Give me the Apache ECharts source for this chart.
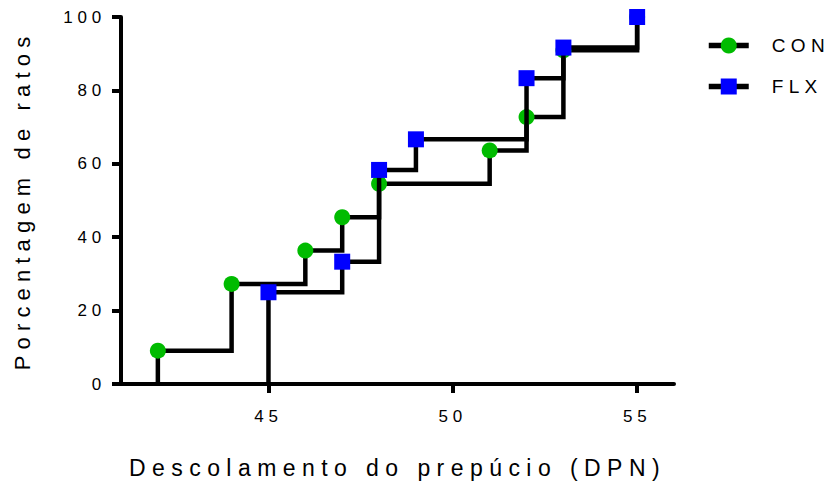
<!DOCTYPE html>
<html>
<head>
<meta charset="utf-8">
<script src="https://cdn.jsdelivr.net/npm/echarts@6/dist/echarts.min.js"></script>
<style>
  html, body { margin: 0; padding: 0; background: #fff; }
  #chart { width: 832px; height: 483px; }
  /* wide tracking on every label, proportional to its font size */
  #chart text { letter-spacing: 0.28em; }
</style>
</head>
<body>
<div id="chart"></div>
<script>
// Cumulative percentage of rats reaching preputial separation, per day
const conDays = [42, 42, 44, 46, 47, 48, 51, 52, 53, 55];
const conPct  = [0, 9.09, 27.27, 36.36, 45.45, 54.55, 63.64, 72.73, 90.91, 100];
const flxDays = [45, 45, 47, 48, 49, 52, 53, 55];
const flxPct  = [0, 25, 33.33, 58.33, 66.67, 83.33, 91.67, 100];
const xTicks  = [45, 50, 55];
const yTicks  = [0, 20, 40, 60, 80, 100];
const seriesNames = ['CON', 'FLX'];

const FONT = "'Liberation Sans', Arial, sans-serif";

// first point of each curve is the baseline start and carries no marker
function toPoints(days, pct) {
  return days.map((d, i) => i === 0
    ? { value: [d, pct[i]], symbol: 'none' }
    : [d, pct[i]]);
}

const chart = echarts.init(document.getElementById('chart'), null, { renderer: 'svg' });

chart.setOption({
  animation: false,
  backgroundColor: '#fff',
  grid: { left: 121, right: 158, top: 17, bottom: 99, containLabel: false, outerBoundsMode: 'none' },
  legend: {
    left: 706, top: 36, orient: 'vertical', padding: 0,
    itemWidth: 40, itemHeight: 20, itemGap: 22,
    data: seriesNames,
    lineStyle: { color: '#000', width: 5.5 },
    textStyle: { fontFamily: FONT, fontSize: 19, color: '#000', padding: [0, 0, 0, 18] }
  },
  xAxis: {
    type: 'value', min: 41, max: 56,
    name: 'Descolamento do prepúcio (DPN)',
    nameLocation: 'middle', nameGap: 72,
    nameTextStyle: { fontFamily: FONT, fontSize: 23, color: '#000' },
    axisLine: { onZero: false, lineStyle: { color: '#000', width: 4 } },
    axisTick: { show: true, length: 9, lineStyle: { color: '#000', width: 4 }, customValues: xTicks },
    axisLabel: { fontFamily: FONT, fontSize: 17, color: '#000', margin: 24, customValues: xTicks },
    splitLine: { show: false }
  },
  yAxis: {
    type: 'value', min: 0, max: 100, interval: 20,
    name: 'Porcentagem de ratos',
    nameLocation: 'middle', nameGap: 88, nameRotate: 90,
    nameTextStyle: { fontFamily: FONT, fontSize: 22, color: '#000' },
    axisLine: { show: true, onZero: false, lineStyle: { color: '#000', width: 4 } },
    axisTick: { show: true, length: 9, lineStyle: { color: '#000', width: 4 } },
    axisLabel: { fontFamily: FONT, fontSize: 17, color: '#000', margin: 15, customValues: yTicks },
    splitLine: { show: false }
  },
  series: [
    {
      name: seriesNames[0], type: 'line', step: 'end', z: 2,
      data: toPoints(conDays, conPct),
      symbol: 'circle', symbolSize: 16,
      itemStyle: { color: '#00bb00' },
      lineStyle: { color: '#000', width: 4.5, cap: 'butt', join: 'miter' }
    },
    {
      name: seriesNames[1], type: 'line', step: 'end', z: 3,
      data: toPoints(flxDays, flxPct),
      symbol: 'rect', symbolSize: 16,
      itemStyle: { color: '#0000ff' },
      lineStyle: { color: '#000', width: 4.5, cap: 'butt', join: 'miter' }
    }
  ]
});
</script>
</body>
</html>
